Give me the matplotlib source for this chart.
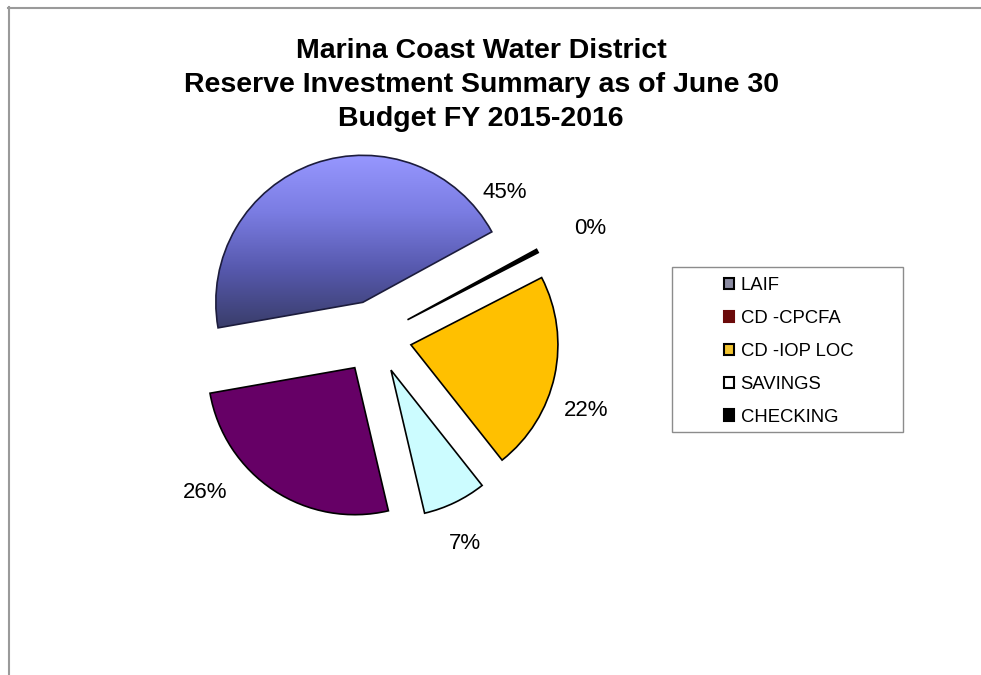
import numpy as np
import matplotlib
matplotlib.use("Agg")
import matplotlib.pyplot as plt
from matplotlib.patches import Rectangle, Patch
from matplotlib.lines import Line2D
from matplotlib.colors import LinearSegmentedColormap

plt.rcParams['font.family'] = ['Liberation Sans', 'DejaVu Sans']

# data, in legend order
categories = ["LAIF", "CD -CPCFA", "CD -IOP LOC", "SAVINGS", "CHECKING"]
shares = [45, 26, 22, 7, 0.4]

# slice colours (LAIF gets a gradient painted on later)
slice_colors = ["#8f8ff2", "#660066", "#ffc000", "#ccfcff", "#000000"]
# legend swatches as they appear in the original
legend_faces = ["#8a8aa0", "#6b0a0a", "#f2c431", "#ffffff", "#000000"]
legend_edges = ["#000000", "#6b0a0a", "#000000", "#000000", "#000000"]

# clockwise order of the slices round the pie
draw_order = [0, 4, 2, 3, 1]
# where the percent labels sit (pie radius units from centre)
label_spots = {0: (0.884, 0.98), 4: (1.463, 0.741), 2: (1.434, -0.497),
               3: (0.612, -1.405), 1: (-1.156, -1.061)}

W, H = 981, 675
fig = plt.figure(figsize=(W / 100, H / 100), dpi=100)

# pie axes: centre at (375, 338) px, radius 147 px
half = 200
ax = fig.add_axes([(375 - half) / W, (338 - half) / H, 2 * half / W, 2 * half / H])
vals = [shares[i] for i in draw_order]
cols = [slice_colors[i] for i in draw_order]
wedges, texts, autotexts = ax.pie(
    vals, colors=cols, explode=[0.25] * len(vals), startangle=190,
    counterclock=False, radius=1, autopct='%1.0f%%', pctdistance=1.3,
    wedgeprops=dict(edgecolor='black', linewidth=1.2),
    textprops=dict(fontsize=16, color='black'))

for t, i in zip(autotexts, draw_order):
    t.set_position(label_spots[i])
    t.set_ha('center')
    t.set_va('center')

# vertical gradient on the LAIF slice
laif = wedges[draw_order.index(0)]
bb = laif.get_path().get_extents(laif.get_patch_transform())
grad = LinearSegmentedColormap.from_list('laif', ['#393d6a', '#5658ac', '#7a7ce2', '#9797ff'])
im = ax.imshow(np.linspace(0, 1, 256).reshape(-1, 1), cmap=grad, origin='lower',
               extent=[bb.x0, bb.x1, bb.y0, bb.y1], aspect='auto', zorder=0.5)
im.set_clip_path(laif)
laif.set_facecolor('none')
laif.set_edgecolor('#1c1c3c')

lim = half / 147
ax.set_xlim(-lim, lim)
ax.set_ylim(-lim, lim)
ax.set_aspect('equal')
ax.axis('off')

# title
fig.text(481 / W, 1 - 85 / H,
         "Marina Coast Water District\nReserve Investment Summary as of June 30\nBudget FY 2015-2016",
         ha='center', va='center', fontsize=20.5, fontweight='bold', linespacing=1.42)

# legend with its own frame
fig.add_artist(Rectangle((672 / W, 1 - 432 / H), 231 / W, 165 / H, transform=fig.transFigure,
                         facecolor='white', edgecolor='#8c8c8c', linewidth=1))
handles = [Patch(facecolor=f, edgecolor=e, linewidth=1.5) for f, e in zip(legend_faces, legend_edges)]
fig.legend(handles, categories, loc='upper left', bbox_to_anchor=(724 / W, 1 - 277 / H),
           frameon=False, fontsize=13.3, borderpad=0, borderaxespad=0,
           handlelength=0.55, handleheight=0.55, handletextpad=0.35, labelspacing=0.86)

# page border
fig.add_artist(Line2D([8.5 / W, 8.5 / W], [0, 1 - 7 / H], transform=fig.transFigure,
                      color='#9a9a9a', linewidth=1.5))
fig.add_artist(Line2D([8 / W, 1], [1 - 7.5 / H, 1 - 7.5 / H], transform=fig.transFigure,
                      color='#9a9a9a', linewidth=1.5))

fig.savefig("out.png", dpi=100)
